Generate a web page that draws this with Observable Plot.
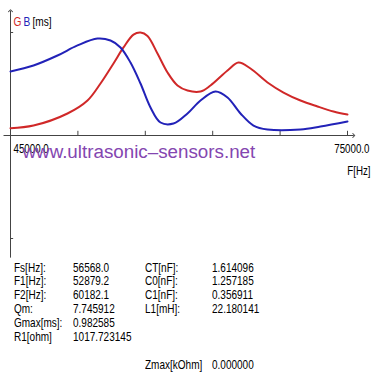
<!DOCTYPE html>
<html>
<head>
<meta charset="utf-8">
<script src="https://cdn.jsdelivr.net/npm/d3@7"></script>
<script src="https://cdn.jsdelivr.net/npm/@observablehq/plot@0.6"></script>
<style>
  html, body { margin: 0; padding: 0; background: #fff; }
  #wrap { position: relative; width: 375px; height: 375px; overflow: hidden; background: #fff; }
  #table { position: absolute; left: 0; top: 0; width: 375px; height: 375px; pointer-events: none;
           font-family: "Liberation Sans", Arial, sans-serif; }
  #table span { position: absolute; font-size: 13px; line-height: 13px; color: #000; white-space: nowrap;
                transform: scaleX(0.77); transform-origin: 0 0; }
</style>
</head>
<body>
<div id="wrap"><div id="chart"></div><div id="table"></div></div>
<script>
// Frequency sweep (Hz) and conductance G / susceptance B (ms)
const freqG = [45000, 47047, 50074, 51855, 53012, 54169, 55059, 55950, 56573, 57196, 58086, 58976, 59866, 60757, 61914, 62804, 64318, 65297, 66365, 67879, 69303, 70816, 72329, 73753, 75000];
const valuesG = [0.070, 0.095, 0.210, 0.334, 0.496, 0.687, 0.840, 0.962, 0.982, 0.950, 0.782, 0.601, 0.477, 0.429, 0.420, 0.477, 0.620, 0.696, 0.639, 0.506, 0.410, 0.334, 0.277, 0.229, 0.200];
const freqB = [45000, 47047, 49184, 50964, 52744, 53902, 54792, 55682, 56573, 57463, 58353, 59510, 60757, 61914, 63249, 64318, 65475, 66632, 67879, 70816, 72596, 75000];
const valuesB = [0.611, 0.668, 0.763, 0.859, 0.925, 0.906, 0.840, 0.696, 0.496, 0.267, 0.124, 0.114, 0.210, 0.334, 0.420, 0.363, 0.210, 0.095, 0.057, 0.057, 0.086, 0.134];

const xDomain = [45000, 75000];
const xTicks = [45000, 51000, 57000, 63000, 69000, 75000];
const xTickLabels = ["45000.0", "75000.0"];
const yTicks = [0.982585, -0.982585];
const yLimit = 1.1447;

const labels1 = ["Fs[Hz]:", "F1[Hz]:", "F2[Hz]:", "Qm:", "Gmax[ms]:", "R1[ohm]", "", ""];
const values1 = ["56568.0", "52879.2", "60182.1", "7.745912", "0.982585", "1017.723145", "", ""];
const labels2 = ["CT[nF]:", "C0[nF]:", "C1[nF]:", "L1[mH]:", "", "", "", "Zmax[kOhm]"];
const values2 = ["1.614096", "1.257185", "0.356911", "22.180141", "", "", "", "0.000000"];

const red = "#d02828";
const blue = "#2222b8";
const axisColor = "#444";
const watermark = "www.ultrasonic–sensors.net";
const sans = '"Liberation Sans", Arial, sans-serif';

const gData = freqG.map((f, i) => ({f, v: valuesG[i]}));
const bData = freqB.map((f, i) => ({f, v: valuesB[i]}));

const chart = Plot.plot({
  width: 375,
  height: 258,
  marginLeft: 10,
  marginRight: 28,
  marginTop: 15,
  marginBottom: 3,
  x: {domain: xDomain, axis: null},
  y: {domain: [-yLimit, yLimit], axis: null},
  style: {fontFamily: sans, overflow: "visible", background: "transparent"},
  marks: [
    Plot.link([0], {x1: 44380, x2: 75560, y1: 0, y2: 0, stroke: axisColor, strokeWidth: 1, markerEnd: "arrow"}),
    Plot.link([0], {x1: 45000, x2: 45000, y1: -1.165, y2: 1.19, stroke: axisColor, strokeWidth: 1, markerEnd: "arrow"}),
    Plot.ruleX(xTicks, {x: d => d, y1: 0, y2: 0.04, stroke: axisColor}),
    Plot.ruleY(yTicks, {y: d => d, x1: 45000, x2: 45280, stroke: axisColor}),
    Plot.line(gData, {x: "f", y: "v", stroke: red, strokeWidth: 2, curve: "catmull-rom"}),
    Plot.line(bData, {x: "f", y: "v", stroke: blue, strokeWidth: 2, curve: "catmull-rom"}),
    Plot.text([xTickLabels[0]], {x: xDomain[0], y: 0, text: d => d, textAnchor: "start", dx: 3, dy: 13, fontSize: 12.5, fill: "#000"}),
    Plot.text([xTickLabels[1]], {x: xDomain[1], y: 0, text: d => d, textAnchor: "end", dx: 22, dy: 13, fontSize: 12.5, fill: "#000"}),
    Plot.text(["F[Hz]"], {x: xDomain[1], y: 0, text: d => d, textAnchor: "end", dx: 23, dy: 35, fontSize: 12.5, fill: "#000"}),
    Plot.text(["G"], {frameAnchor: "top-left", text: d => d, textAnchor: "start", dx: 3, dy: 1.5, fontSize: 13, fill: red}),
    Plot.text(["B"], {frameAnchor: "top-left", text: d => d, textAnchor: "start", dx: 13, dy: 1.5, fontSize: 13, fill: blue}),
    Plot.text(["[ms]"], {frameAnchor: "top-left", text: d => d, textAnchor: "start", dx: 22, dy: 1.5, fontSize: 13, fill: "#000"}),
    Plot.text([watermark], {frameAnchor: "top-left", text: d => d, textAnchor: "start", dx: 12, dy: 129, fontSize: 18.8, fill: "#8446b0"})
  ]
});
document.getElementById("chart").appendChild(chart);

// condense the small labels (narrow UI font look)
d3.select(chart).selectAll("text").each(function () {
  if (this.textContent === watermark) return;
  const w = this.getComputedTextLength();
  this.setAttribute("textLength", (w * 0.78).toFixed(2));
  this.setAttribute("lengthAdjust", "spacingAndGlyphs");
});

// parameter table (uniform row grid, row 7 blank)
const rowTop = 267.5, rowStep = 13.9;
const colX = [14, 73, 145, 212];
const table = document.getElementById("table");
function put(txt, x, y) {
  if (!txt) return;
  const s = document.createElement("span");
  s.textContent = txt;
  s.style.left = x + "px";
  s.style.top = (y - 7) + "px";
  table.appendChild(s);
}
[labels1, values1, labels2, values2].forEach((col, c) =>
  col.forEach((t, i) => put(t, colX[c], rowTop + i * rowStep)));
</script>
</body>
</html>
